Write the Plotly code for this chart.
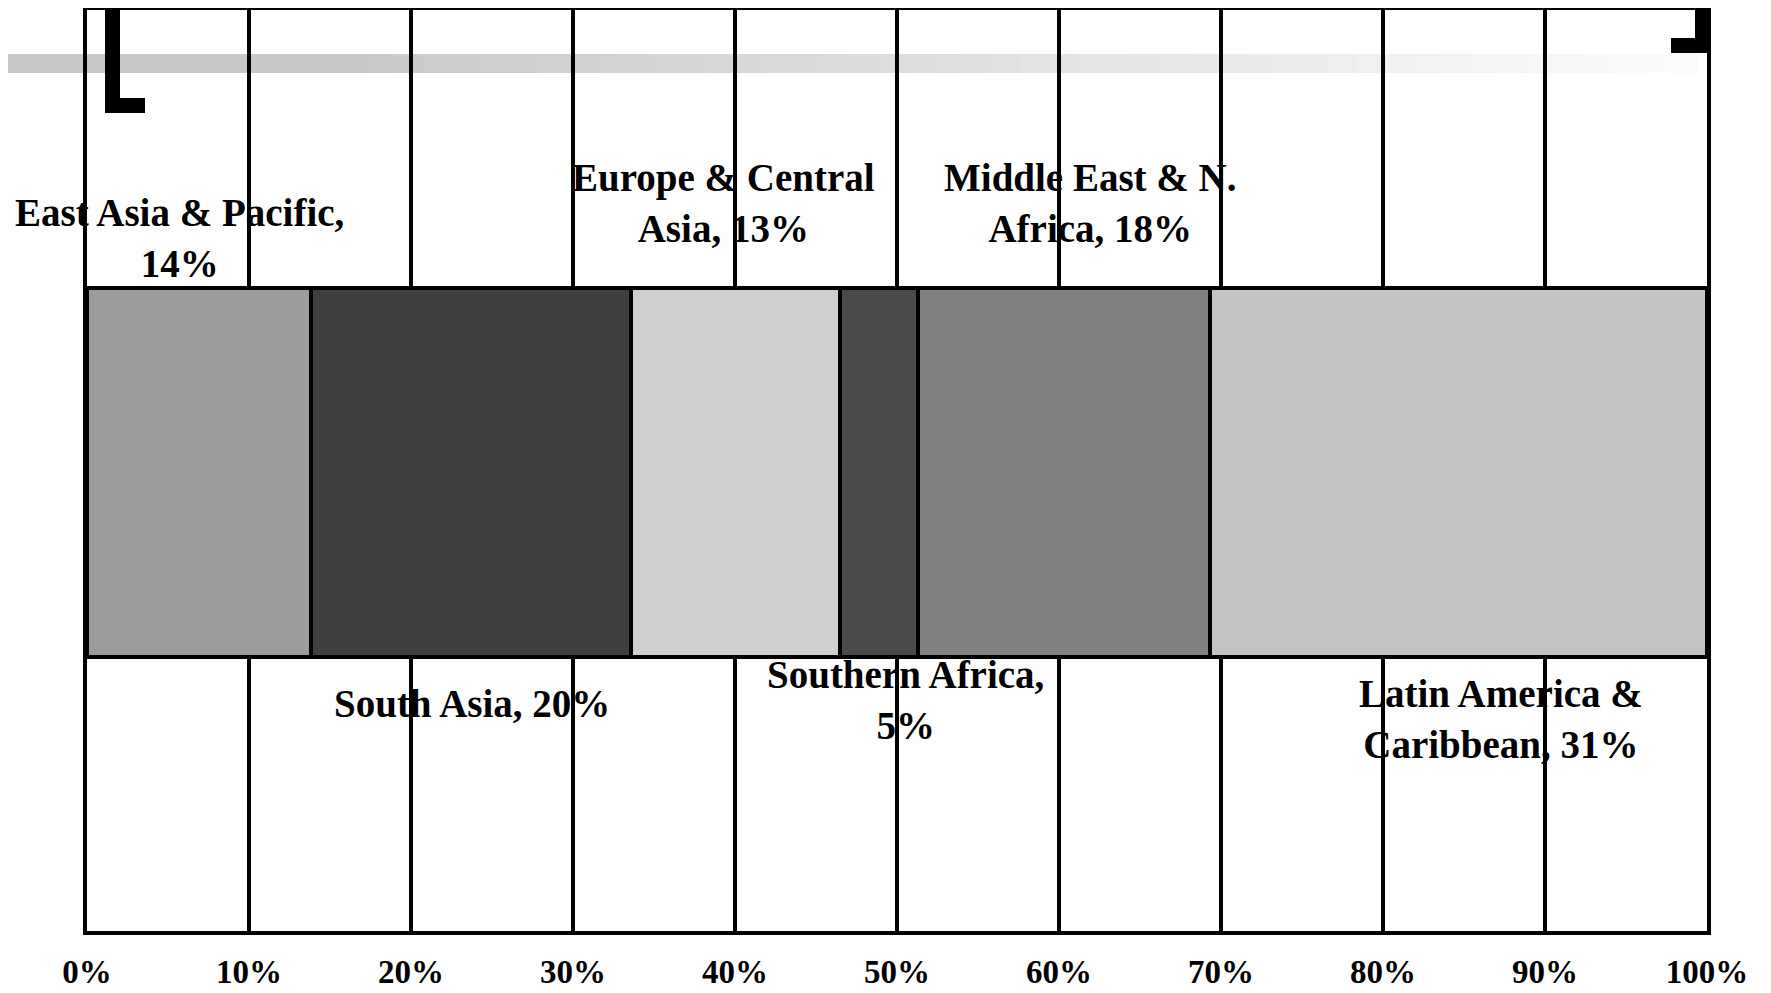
import plotly.graph_objects as go

# ---- data ----
regions = ["East Asia & Pacific", "South Asia", "Europe & Central Asia",
           "Southern Africa", "Middle East & N. Africa", "Latin America & Caribbean"]
shares = [13.8, 19.8, 12.9, 4.8, 18.0, 30.7]          # bar widths (% of total)
label_texts = ["East Asia & Pacific,<br>14%", "South Asia, 20%",
               "Europe & Central<br>Asia, 13%", "Southern Africa,<br>5%",
               "Middle East & N.<br>Africa, 18%", "Latin America &<br>Caribbean, 31%"]
tick_vals = [0, 10, 20, 30, 40, 50, 60, 70, 80, 90, 100]
tick_text = ["0%", "10%", "20%", "30%", "40%", "50%", "60%", "70%", "80%", "90%", "100%"]

# ---- styles ----
colors = ["#9c9c9c", "#3f3f3f", "#cecece", "#4a4a4a", "#808080", "#c3c3c3"]
label_xshift = [-19, 1, -12, 26, 27, 43]
label_py = [238, 703, 203, 700, 203, 719]   # label block centres (page px)

OFF = 8                       # page body margin
W, H = 1763, 985
L, R, T, B = 79, 64, 2, 62
PW = W - L - R
PLOT_TOP, PLOT_BOT = 10, 931  # page rows of plot area
PH = PLOT_BOT - PLOT_TOP
FONT = "Liberation Serif, Times New Roman, serif"

fig = go.Figure()
for name, val, col in zip(regions, shares, colors):
    fig.add_trace(go.Bar(
        y=[0], x=[val], orientation="h", width=1, name=name,
        marker=dict(color=col, line=dict(color="black", width=4)),
        showlegend=False, hovertemplate=name + ": %{x}%<extra></extra>"))

def px_x(p):  # page pixel -> paper
    return (p - OFF - L) / PW

def px_y(p):
    return (PLOT_BOT - p) / PH

# labels placed relative to segment centers
cum = 0
annotations = []
for val, txt, dx, py in zip(shares, label_texts, label_xshift, label_py):
    center = cum + val / 2
    cum += val
    annotations.append(dict(
        x=center, xref="x", y=px_y(py), yref="paper", xshift=dx,
        text="<b>" + txt + "</b>", showarrow=False, align="center",
        xanchor="center", yanchor="middle",
        font=dict(family=FONT, size=39, color="black")))

shapes = []
# gradient band (slide decoration)
n = 60
x0, x1 = 0, 1697
for i in range(n):
    a = x0 + (x1 - x0) * i / n
    b = x0 + (x1 - x0) * (i + 1) / n
    mid = (a + b) / 2
    if mid < 340:
        g = 200
    else:
        g = int(round(200 + (252 - 200) * (mid - 340) / (x1 - 340)))
    shapes.append(dict(type="rect", xref="paper", yref="paper",
                       x0=px_x(a - (8 if i == 0 else 0)), x1=px_x(b + 0.8),
                       y0=px_y(73), y1=px_y(54),
                       fillcolor=f"rgb({g},{g},{g})", line=dict(width=0),
                       layer="below"))
# brackets
for (ax, bx, ay, by) in [(105, 120, -10, 113), (105, 145, 98, 113),
                         (1695, 1711, -10, 53), (1671, 1711, 38, 53)]:
    shapes.append(dict(type="rect", xref="paper", yref="paper",
                       x0=px_x(ax), x1=px_x(bx), y0=px_y(by), y1=px_y(ay),
                       fillcolor="black", line=dict(width=0), layer="above"))

fig.update_layout(
    width=W, height=H,
    margin=dict(l=L, r=R, t=T, b=B, pad=0),
    barmode="stack", bargap=0,
    paper_bgcolor="white", plot_bgcolor="rgba(0,0,0,0)",
    annotations=annotations, shapes=shapes,
    xaxis=dict(range=[0, 100], tickvals=tick_vals,
               ticktext=["<b>" + t + "</b>" for t in tick_text],
               showgrid=True, gridcolor="black", gridwidth=3.5,
               showline=True, linecolor="black", linewidth=4, mirror=True,
               ticks="outside", ticklen=8, tickcolor="rgba(0,0,0,0)",
               tickfont=dict(family=FONT, size=33, color="black"),
               zeroline=False, fixedrange=True, automargin=False),
    yaxis=dict(range=[-1.243, 1.253], showticklabels=False, showgrid=False,
               zeroline=False, showline=True, linecolor="black", linewidth=4,
               mirror=True, fixedrange=True, automargin=False),
    font=dict(family=FONT, color="black"),
)

fig.write_html("out.html")
